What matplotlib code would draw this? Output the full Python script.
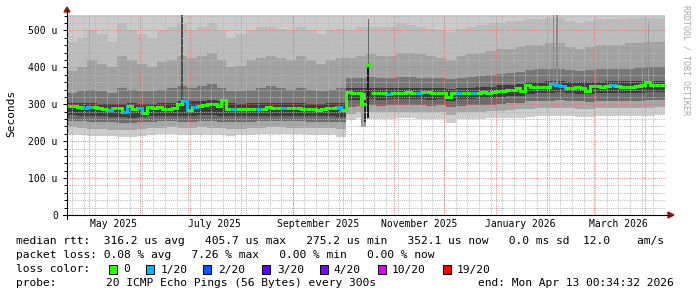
import numpy as np
import matplotlib
matplotlib.use("Agg")
import matplotlib.pyplot as plt
import matplotlib.dates as mdates
from matplotlib.patches import Rectangle, Polygon
from matplotlib.lines import Line2D

plt.rcParams["font.family"] = "DejaVu Sans Mono"

# time window of the graph
start = np.datetime64("2025-04-18T00:34")
end = np.datetime64("2026-04-13T00:34")

# smoke: 6-day buckets, sorted ping levels (seconds * 1e6)
smoke_lo0 = [218, 216, 215, 214, 213, 212, 212, 214, 218, 219, 219, 218, 217, 218, 217, 216, 215, 216, 218, 219,
             220, 220, 219, 219, 218, 218, 217, 212, 258, 262, 261, 260, 261, 262, 262, 261, 260, 261, 250, 260,
             261, 261, 262, 263, 264, 264, 266, 268, 268, 268, 267, 266, 265, 267, 268, 268, 267, 268, 269, 270]
smoke_lo1 = [238, 236, 234, 233, 231, 230, 230, 232, 236, 237, 238, 236, 236, 238, 237, 235, 233, 234, 236, 237,
             238, 238, 237, 237, 236, 236, 235, 233, 275, 279, 279, 278, 279, 280, 280, 279, 278, 279, 272, 278,
             279, 279, 281, 283, 285, 286, 288, 290, 290, 291, 289, 288, 287, 289, 290, 290, 289, 290, 291, 292]
smoke_lo2 = [255, 254, 253, 252, 251, 249, 249, 251, 253, 254, 255, 253, 253, 255, 255, 253, 251, 252, 253, 254,
             255, 255, 254, 254, 253, 253, 252, 251, 293, 296, 297, 296, 297, 298, 298, 297, 296, 297, 292, 296,
             297, 298, 299, 301, 303, 304, 308, 310, 310, 311, 309, 308, 307, 309, 310, 310, 309, 310, 311, 312]
smoke_lo3 = [270, 269, 268, 267, 266, 265, 263, 265, 267, 268, 269, 267, 268, 270, 271, 269, 267, 267, 268, 268,
             269, 269, 268, 268, 267, 267, 267, 266, 312, 313, 314, 313, 314, 315, 315, 314, 313, 314, 309, 314,
             315, 316, 317, 319, 322, 323, 329, 331, 331, 332, 330, 329, 327, 330, 331, 331, 330, 331, 332, 333]
smoke_hi1 = [303, 304, 303, 302, 301, 300, 303, 302, 302, 303, 304, 310, 308, 310, 312, 308, 303, 302, 303, 303,
             304, 304, 303, 303, 302, 302, 303, 304, 343, 343, 344, 343, 343, 344, 344, 344, 343, 343, 342, 344,
             345, 346, 348, 351, 353, 355, 360, 361, 362, 362, 360, 360, 360, 361, 362, 362, 362, 363, 364, 364]
smoke_hi2 = [330, 335, 340, 335, 330, 345, 340, 335, 335, 340, 345, 350, 345, 350, 355, 345, 335, 335, 340, 345,
             350, 345, 340, 345, 340, 335, 340, 345, 370, 372, 375, 372, 372, 375, 375, 372, 372, 370, 368, 372,
             375, 378, 380, 383, 385, 388, 392, 395, 395, 395, 392, 390, 392, 395, 395, 395, 396, 398, 400, 400]
smoke_hi3 = [390, 400, 420, 410, 400, 430, 420, 410, 400, 415, 420, 430, 425, 430, 440, 420, 400, 405, 420, 425,
             430, 425, 420, 430, 420, 410, 420, 425, 425, 430, 435, 430, 430, 440, 440, 435, 430, 425, 420, 430,
             435, 440, 445, 450, 450, 455, 460, 460, 465, 465, 455, 450, 455, 460, 460, 460, 465, 465, 470, 470]
smoke_hi4 = [470, 480, 500, 490, 470, 520, 500, 490, 480, 500, 510, 520, 500, 510, 520, 500, 480, 490, 500, 510,
             510, 505, 500, 510, 500, 490, 500, 505, 500, 510, 510, 510, 510, 520, 515, 510, 505, 500, 495, 505,
             510, 515, 520, 520, 525, 525, 530, 530, 535, 535, 525, 520, 525, 530, 530, 530, 535, 535, 535, 535]
smoke_max = [560] * 60

# short outlier columns: date, low, high
spike_dates = ["2025-06-26T12", "2025-10-13T12", "2025-10-14T06", "2025-10-16T12", "2025-10-16T12",
               "2026-02-05T00", "2026-02-07T00", "2026-04-03T00"]
spike_lo = [300, 238, 252, 262, 410, 350, 350, 360]
spike_hi = [560, 330, 311, 410, 530, 560, 560, 525]

# median rtt, 3-day steps, and lost pings out of 20
median_rtt = [295, 296, 293, 291, 292, 293, 289, 288, 285, 289,
              290, 280, 295, 287, 289, 276, 293, 291, 292, 288,
              286, 290, 300, 310, 285, 294, 295, 297, 301, 302,
              296, 311, 287, 286, 286, 287, 288, 287, 286, 288,
              293, 291, 290, 289, 291, 291, 290, 288, 287, 286,
              285, 288, 289, 290, 293, 285, 333, 331, 331, 300,
              406, 331, 330, 331, 329, 330, 331, 331, 332, 330,
              331, 334, 333, 330, 331, 330, 321, 330, 331, 330,
              331, 330, 331, 332, 331, 334, 337, 337, 338, 339,
              343, 335, 352, 346, 347, 346, 348, 355, 352, 349,
              343, 344, 346, 345, 336, 350, 350, 346, 349, 352,
              349, 348, 348, 347, 349, 352, 361, 352, 352, 352]
loss = [0, 0, 0, 1, 1, 0, 0, 0, 1, 0,
        0, 1, 0, 0, 1, 0, 0, 0, 0, 0,
        0, 0, 0, 1, 0, 1, 0, 0, 0, 0,
        0, 0, 0, 1, 0, 0, 0, 0, 1, 0,
        0, 0, 0, 1, 0, 0, 0, 0, 0, 0,
        0, 0, 0, 0, 1, 0, 0, 0, 0, 0,
        0, 0, 0, 0, 1, 0, 0, 0, 0, 0,
        1, 0, 0, 0, 0, 0, 0, 0, 1, 0,
        0, 1, 0, 0, 0, 0, 0, 0, 0, 0,
        0, 0, 0, 0, 0, 0, 0, 1, 1, 1,
        0, 0, 0, 0, 0, 0, 0, 0, 0, 1,
        0, 0, 0, 0, 0, 0, 0, 0, 0, 0]

loss_levels = [0, 1, 2, 3, 4, 10, 19]
loss_labels = ["0", "1/20", "2/20", "3/20", "4/20", "10/20", "19/20"]
loss_colors = ["#26ff00", "#00b8ff", "#0059ff", "#5e00ff", "#7e00ff", "#dd00ff", "#ff0000"]

y_ticks = [0, 100, 200, 300, 400, 500]
y_ticklabels = ["0", "100 u", "200 u", "300 u", "400 u", "500 u"]
x_label_dates = ["2025-05-16", "2025-07-16", "2025-09-16", "2025-11-16", "2026-01-16", "2026-03-16"]
x_labels = ["May 2025", "July 2025", "September 2025", "November 2025", "January 2026", "March 2026"]

stats_lines = [
    "median rtt:  316.2 us avg   405.7 us max   275.2 us min   352.1 us now   0.0 ms sd  12.0    am/s",
    "packet loss: 0.08 % avg   7.26 % max   0.00 % min   0.00 % now",
]
probe_line = [("probe:", 16), ("20 ICMP Echo Pings (56 Bytes) every 300s", 106),
              ("end: Mon Apr 13 00:34:32 2026", 478)]

W, H = 697, 297
FS = 8.1
fig = plt.figure(figsize=(W / 100, H / 100), dpi=100)
ax = fig.add_axes([67 / W, (H - 215) / H, (665 - 67) / W, 200 / H])
for s in ax.spines.values():
    s.set_visible(False)


def fx(x):
    return x / W


def fy(y):
    return 1 - y / H


# smoke bands
smoke_edges = mdates.date2num(start + np.timedelta64(6, "D") * np.arange(len(smoke_lo0) + 1))
levels = [smoke_lo0, smoke_lo1, smoke_lo2, smoke_lo3, smoke_hi1, smoke_hi2, smoke_hi3, smoke_hi4, smoke_max]
band_colors = ["#cdcdcd", "#a6a6a6", "#6c6c6c", "#3d3d3d", "#777777", "#a2a2a2", "#bcbcbc", "#cbcbcb"]
for lower, upper, c in zip(levels[:-1], levels[1:], band_colors):
    ax.stairs(upper, smoke_edges, baseline=lower, fill=True, color=c, lw=0, antialiased=False, zorder=1)

spike_colors = ["#4d4d4d", "#9a9a9a", "#2e2e2e", "#1a1a1a", "#6a6a6a", "#8a8a8a", "#8a8a8a", "#999999"]
spike_widths = [1.2, 2.5, 1.2, 1.2, 0.6, 1.0, 1.0, 0.8]
for d, lo, hi, c, w in zip(spike_dates, spike_lo, spike_hi, spike_colors, spike_widths):
    ax.bar(mdates.date2num(np.datetime64(d)), hi - lo, bottom=lo, width=w, color=c, lw=0,
           antialiased=False, zorder=1.5)

# grid
for t in np.arange(np.datetime64("2025-04-21"), end, np.timedelta64(7, "D")):
    ax.axvline(mdates.date2num(t), color="#b8b8b8", lw=0.72, dashes=(1, 1.2), zorder=2)
for v in range(20, 542, 20):
    if v % 100:
        ax.axhline(v, color="#b8b8b8", lw=0.72, dashes=(1, 1.2), zorder=2)
for t in np.arange(np.datetime64("2025-05"), np.datetime64("2026-05"), dtype="datetime64[M]"):
    ax.axvline(mdates.date2num(t.astype("datetime64[D]")), color="#e86a6a", alpha=0.8, lw=0.72,
               dashes=(1, 1.2), zorder=2.1)
for v in y_ticks[1:]:
    ax.axhline(v, color="#e86a6a", alpha=0.8, lw=0.72, dashes=(1, 1.2), zorder=2.1)

# median line coloured by loss
med_edges = mdates.date2num(start + np.timedelta64(3, "D") * np.arange(len(median_rtt) + 1))
color_of = dict(zip(loss_levels, loss_colors))
for i, (v, l) in enumerate(zip(median_rtt, loss)):
    c = color_of[l]
    ax.plot([med_edges[i], med_edges[i + 1]], [v, v], color=c, lw=2.2, solid_capstyle="butt", zorder=3)
    if i + 1 < len(median_rtt) and abs(median_rtt[i + 1] - v) < 60:
        ax.plot([med_edges[i + 1]] * 2, [v, median_rtt[i + 1]], color=c, lw=2.2, zorder=3)

ax.set_xlim(mdates.date2num(start), mdates.date2num(end))
ax.set_ylim(0, 542)
ax.set_yticks(y_ticks)
ax.set_yticklabels(y_ticklabels, fontsize=7)
ax.set_yticks(range(0, 542, 20), minor=True)
ax.set_xticks(mdates.date2num(np.array(x_label_dates, dtype="datetime64[D]")))
ax.set_xticklabels(x_labels, fontsize=7)
ax.tick_params(axis="x", length=0, pad=3)
ax.tick_params(axis="y", which="major", length=3, width=0.7, pad=3.6, direction="out")
ax.tick_params(axis="y", which="minor", length=2, width=0.7, direction="out")

# axes with arrows
fig.add_artist(Line2D([fx(67), fx(67)], [fy(219), fy(10)], color="black", lw=0.8))
fig.add_artist(Line2D([fx(63), fx(669)], [fy(215), fy(215)], color="black", lw=0.8))
fig.add_artist(Polygon([(fx(64), fy(12)), (fx(70), fy(12)), (fx(67), fy(7))], closed=True,
                       color="#8b1a1a", transform=fig.transFigure))
fig.add_artist(Polygon([(fx(668), fy(212)), (fx(668), fy(218)), (fx(674), fy(215))], closed=True,
                       color="#8b1a1a", transform=fig.transFigure))

fig.text(fx(11), fy(113), "Seconds", rotation=90, ha="center", va="center", fontsize=8)
fig.text(fx(686), fy(60), "RRDTOOL / TOBI OETIKER", rotation=270, ha="center", va="center",
         fontsize=6, color="#a8a8a8")

# legend block
for s, y in zip(stats_lines, [241.5, 255.5]):
    fig.text(fx(16), fy(y), s, ha="left", va="center", fontsize=FS)
fig.text(fx(16), fy(269.5), "loss color:", ha="left", va="center", fontsize=FS)
sq_x = [109, 146, 203, 262, 320, 378, 443]
lab_x = [123, 161, 218, 277, 334, 392, 457]
for c, lab, x0, x1 in zip(loss_colors, loss_labels, sq_x, lab_x):
    fig.add_artist(Rectangle((fx(x0), fy(273.5)), 8 / W, 9 / H, facecolor=c, edgecolor="black",
                             lw=0.7, transform=fig.transFigure))
    fig.text(fx(x1), fy(269.5), lab, ha="left", va="center", fontsize=FS)
for s, x in probe_line:
    fig.text(fx(x), fy(283.5), s, ha="left", va="center", fontsize=FS)

fig.savefig("out.png", dpi=100, facecolor="white")
